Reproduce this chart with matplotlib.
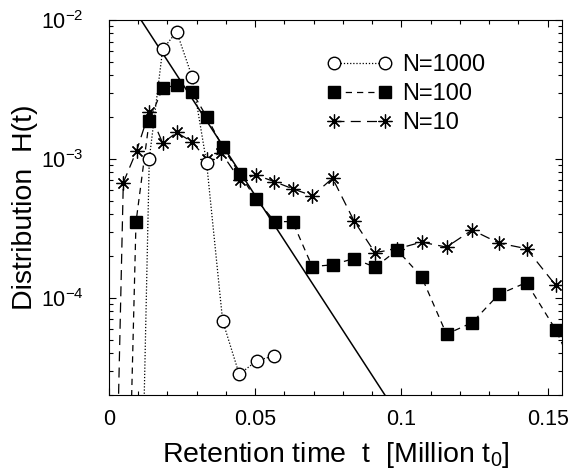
import numpy as np
import matplotlib
matplotlib.use("Agg")
import matplotlib.pyplot as plt

plt.rcParams['font.family'] = ['Liberation Sans', 'DejaVu Sans']
plt.rcParams['mathtext.fontset'] = 'custom'
plt.rcParams['mathtext.rm'] = 'Liberation Sans'
plt.rcParams['mathtext.it'] = 'Liberation Sans'
plt.rcParams['mathtext.default'] = 'regular'

# ---- data ----
t_1000 = [0.0092, 0.01377, 0.01835, 0.02314, 0.02847, 0.03339, 0.03886, 0.04453, 0.05048, 0.05639]
H_1000 = [3e-8, 1.00e-3, 6.15e-3, 8.24e-3, 3.87e-3, 9.3e-4, 6.84e-5, 2.82e-5, 3.52e-5, 3.83e-5]

t_100 = [0.0044, 0.00923, 0.01377, 0.01835, 0.02314, 0.02837, 0.03339, 0.03886, 0.04477, 0.05024,
         0.05673, 0.06278, 0.06948, 0.07645, 0.08373, 0.09101, 0.09853, 0.10687, 0.11541, 0.12416,
         0.13329, 0.14276, 0.15277, 0.163]
H_100 = [3e-8, 3.51e-4, 1.89e-3, 3.23e-3, 3.40e-3, 3.05e-3, 2.01e-3, 1.22e-3, 7.76e-4, 5.13e-4,
         3.54e-4, 3.54e-4, 1.68e-4, 1.73e-4, 1.92e-4, 1.66e-4, 2.21e-4, 1.42e-4, 5.48e-5, 6.64e-5,
         1.06e-4, 1.29e-4, 5.89e-5, 2.0e-5]

t_10 = [0.0, 0.00489, 0.00947, 0.01377, 0.01835, 0.02314, 0.02837, 0.03339, 0.03838, 0.04477,
        0.05024, 0.05649, 0.06299, 0.06955, 0.07645, 0.08373, 0.09091, 0.0984, 0.10687, 0.11541,
        0.12416, 0.13329, 0.14276, 0.15277]
H_10 = [1.6e-8, 6.75e-4, 1.15e-3, 2.19e-3, 1.30e-3, 1.55e-3, 1.33e-3, 9.96e-4, 1.11e-3, 7.06e-4,
        7.67e-4, 6.87e-4, 6.08e-4, 5.43e-4, 7.26e-4, 3.60e-4, 2.12e-4, 2.25e-4, 2.52e-4, 2.32e-4,
        3.08e-4, 2.48e-4, 2.26e-4, 1.23e-4]

# exponential fit H = A exp(-t/tau)
fit_amp = 0.0226
fit_tau = 0.01342

labels = ["N=1000", "N=100", "N=10"]
xticks = [0, 0.05, 0.1, 0.15]
xticklabels = ["0", "0.05", "0.1", "0.15"]
yticks = [1e-4, 1e-3, 1e-2]
yticklabels = [r"$10^{-4}$", r"$10^{-3}$", r"$10^{-2}$"]

# ---- figure ----
fig = plt.figure(figsize=(5.71, 4.74), dpi=100)
ax = fig.add_axes([109 / 571, 1 - 395 / 474, (562.3 - 109) / 571, (395 - 20) / 474])

tf = np.linspace(0, 0.12, 300)
ax.plot(tf, fit_amp * np.exp(-tf / fit_tau), color='black', lw=1.1, zorder=2)

ax.plot(t_10, H_10, color='black', lw=0.9, ls=(0, (8, 5)), marker=(8, 2, 0),
        ms=10, mew=0.9, mec='black', label=labels[2], zorder=3)
ax.plot(t_100, H_100, color='black', lw=0.9, ls=(0, (5, 4)), marker='s',
        ms=8, mfc='black', mec='black', label=labels[1], zorder=4)
ax.plot(t_1000, H_1000, color='black', lw=0.9, ls=(0, (1, 1.5)), marker='o',
        ms=9, mfc='white', mec='black', mew=1.0, label=labels[0], zorder=5)

ax.set_yscale('log')
ax.set_xlim(0, 0.155)
ax.set_ylim(2e-5, 1e-2)

ax.set_xticks(xticks)
ax.set_xticklabels(xticklabels)
ax.set_xticks(np.arange(0, 0.155, 0.01), minor=True)
ax.set_yticks(yticks)
ax.set_yticklabels(yticklabels)
ax.yaxis.set_minor_locator(matplotlib.ticker.LogLocator(base=10, subs=np.arange(2, 10)))
ax.yaxis.set_minor_formatter(matplotlib.ticker.NullFormatter())

ax.tick_params(which='both', direction='in', top=True, right=True, width=0.8)
ax.tick_params(which='major', length=5)
ax.tick_params(which='minor', length=3)
ax.tick_params(axis='x', which='major', labelsize=15.5, pad=10)
ax.tick_params(axis='y', which='major', labelsize=15.5, pad=18)
for s in ax.spines.values():
    s.set_linewidth(0.8)

ax.set_xlabel(r"Retention time  t  [Million t$_0$]", fontsize=20.5, labelpad=7)
ax.set_ylabel("Distribution  H(t)", fontsize=20.5, labelpad=2)

h, l = ax.get_legend_handles_labels()
order = [2, 1, 0]
ax.legend([h[i] for i in order], [l[i] for i in order], loc='upper left',
          bbox_to_anchor=(0.455, 0.94), frameon=False, fontsize=17, numpoints=2,
          handlelength=2.75, labelspacing=0.3, handletextpad=0.45, borderpad=0)

fig.savefig("out.png", dpi=100)
